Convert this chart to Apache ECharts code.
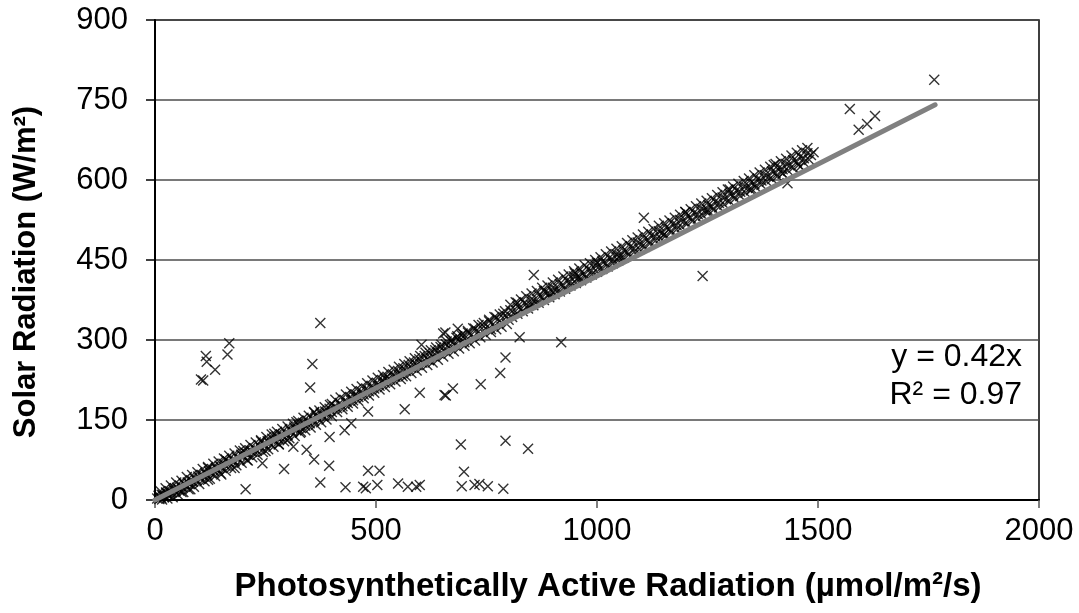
<!DOCTYPE html>
<html>
<head>
<meta charset="utf-8">
<script src="https://cdn.jsdelivr.net/npm/echarts@6/dist/echarts.min.js"></script>
<style>
html,body{margin:0;padding:0;background:#fff;}
#chart{width:1079px;height:613px;}
</style>
</head>
<body>
<div id="chart"></div>
<script>
// PAR (µmol/m²/s) vs Solar Radiation (W/m²) — main dense band (centre)
const mainBand = [
[5,3],[10,6],[14,4],[18,9],[22,8],[26,13],[30,11],[34,16],[38,14],[42,19],[46,17],[50,23],[54,20],[58,26],[62,24],[66,30],[70,27],[74,33],[78,30],[82,37],[86,34],[90,40],[94,37],[98,44],[102,41],[106,47],[110,44],[114,50],[118,47],[122,54],[126,51],[130,57],[134,54],[138,60],[142,57],[146,64],[150,61],[155,68],[160,64],[165,72],[170,69],[175,76],[180,72],[185,80],[190,77],[195,85],[200,81],[205,88],[210,85],[215,93],[220,90],[225,97],[230,93],[235,102],[240,98],[245,106],[250,102],[255,110],[260,106],[265,115],[270,110],[275,119],[280,114],[285,123],[290,119],[295,127],[300,122],[305,132],[310,127],[315,136],[320,131],[325,140],[330,135],[335,145],[340,139],[345,149],[350,144],[355,153],[360,148],[365,158],[370,152],[375,162],[380,157],[385,166],[390,161],[395,171],[400,165],[406,176],[412,172],[418,182],[424,176],[430,187],[436,182],[442,193],[448,187],[454,198],[460,193],[466,204],[472,198],[478,209],[484,204],[490,214],[496,209],[502,220],[508,214],[514,225],[520,220],[526,231],[532,225],[538,236],[544,231],[550,242],[556,236],[562,247],[568,242],[574,253],[580,248],[586,258],[592,253],[598,264],[604,258],[610,270],[616,264],[622,275],[628,270],[634,281],[640,276],[646,287],[652,281],[658,292],[664,287],[670,298],[676,292],[682,304],[688,298],[694,309],[700,303],[708,314],[716,310],[724,321],[732,316],[740,328],[748,322],[756,335],[764,329],[772,342],[780,336],[788,349],[796,344],[804,356],[812,351],[820,363],[828,358],[836,370],[844,365],[852,377],[860,372],[868,384],[876,380],[884,391],[892,387],[900,398],[908,394],[916,405],[924,402],[932,412],[940,409],[948,419],[956,416],[964,426],[972,423],[980,433],[988,430],[996,440],[1004,437],[1012,447],[1020,444],[1028,454],[1036,451],[1044,461],[1052,458],[1060,468],[1068,465],[1076,476],[1084,472],[1092,483],[1100,479],[1108,490],[1116,487],[1124,497],[1132,494],[1140,504],[1148,501],[1156,511],[1164,508],[1172,518],[1180,515],[1188,525],[1196,522],[1204,532],[1212,529],[1220,539],[1228,536],[1236,546],[1244,543],[1252,553],[1260,550],[1268,560],[1276,557],[1284,567],[1292,564],[1300,574],[1308,571],[1316,581],[1324,578],[1332,588],[1340,585],[1348,595],[1356,592],[1364,602],[1372,599],[1380,609],[1388,606],[1396,616],[1404,613],[1412,623],[1420,620],[1428,630],[1436,627],[1444,637],[1452,634],[1460,644],[1468,641],[1476,650],[1484,647],[1490,652]
];
// upper edge of the band
const bandUpper = [
[12,17],[24,22],[36,27],[48,33],[60,36],[72,43],[84,47],[96,52],[108,58],[120,62],[132,68],[144,72],[156,78],[168,83],[180,87],[192,93],[204,97],[216,103],[228,108],[240,112],[252,118],[264,123],[276,128],[288,133],[300,138],[312,143],[324,148],[336,154],[348,158],[360,164],[372,168],[384,174],[396,178],[408,188],[420,192],[432,198],[444,203],[456,208],[468,213],[480,219],[492,224],[504,229],[516,234],[528,240],[540,244],[552,250],[564,255],[576,260],[588,266],[600,270],[612,276],[624,281],[636,286],[648,291],[660,297],[672,301],[684,307],[696,312],[708,317],[720,322],[732,328],[744,332],[756,338],[768,343],[780,348],[792,354],[804,366],[816,371],[828,376],[840,382],[852,387],[864,392],[876,398],[888,402],[900,408],[912,413],[924,419],[936,423],[948,429],[960,434],[972,440],[984,444],[996,450],[1008,455],[1020,461],[1032,466],[1044,471],[1056,476],[1068,482],[1080,487],[1092,492],[1104,498],[1116,503],[1128,508],[1140,514],[1152,519],[1164,524],[1176,529],[1188,535],[1200,540],[1212,545],[1224,551],[1236,556],[1248,561],[1260,566],[1272,572],[1284,577],[1296,582],[1308,588],[1320,593],[1332,598],[1344,603],[1356,609],[1368,614],[1380,619],[1392,625],[1404,630],[1416,635],[1428,640],[1440,646],[1452,651],[1464,656],[1476,660]
];
// lower edge of the band
const bandLower = [
[16,1],[28,3],[40,5],[52,10],[64,15],[76,20],[88,25],[100,30],[112,35],[124,40],[136,45],[148,50],[160,55],[172,60],[184,65],[196,70],[208,75],[220,80],[232,85],[244,90],[256,95],[268,100],[280,105],[292,110],[304,116],[316,120],[328,126],[340,131],[352,136],[364,141],[376,146],[388,151],[400,157],[412,165],[424,170],[436,175],[448,181],[460,186],[472,191],[484,196],[496,201],[508,207],[520,212],[532,217],[544,222],[556,227],[568,232],[580,238],[592,243],[604,248],[616,253],[628,258],[640,263],[652,269],[664,274],[676,279],[688,284],[700,289],[712,294],[724,299],[736,305],[748,310],[760,315],[772,320],[784,325],[796,330],[808,343],[820,349],[832,354],[844,359],[856,365],[868,370],[880,375],[892,380],[904,386],[916,391],[928,396],[940,402],[952,407],[964,412],[976,417],[988,423],[1000,428],[1012,433],[1024,438],[1036,444],[1048,449],[1060,454],[1072,460],[1084,465],[1096,470],[1108,475],[1120,481],[1132,486],[1144,491],[1156,496],[1168,502],[1180,507],[1192,512],[1204,518],[1216,523],[1228,528],[1240,533],[1252,539],[1264,544],[1276,549],[1288,554],[1300,560],[1312,565],[1324,570],[1336,576],[1348,581],[1360,586],[1372,591],[1384,597],[1396,602],[1408,607],[1420,612],[1432,618],[1444,623],[1456,628],[1468,633],[1480,638]
];
// scattered points close to the band
const nearBand = [
[60,15],[80,20],[120,38],[150,48],[180,60],[210,74],[250,92],[280,104],[300,112],[330,128],[120,60],[160,76],[200,92],[240,110],[270,124],[320,146],[360,165],[400,180],[450,195],[520,228],[560,232],[620,262],[700,296],[760,320],[800,338],[850,366],[900,390],[960,418],[1050,455],[1150,497],[1250,544],[1350,583],[1420,612],[1460,625],[1200,540],[1300,582],[1400,628],[1000,445],[950,425],[880,392],[820,370],[10,2],[20,5],[30,8],[15,10],[25,14],[35,12],[8,8],[45,22],[55,18],[65,31]
];
// outliers
const outliers = [
[104,226],[109,224],[115,270],[117,259],[136,244],[164,273],[168,294],[205,20],[243,69],[292,58],[313,100],[343,94],[351,211],[356,255],[360,76],[374,332],[374,33],[394,64],[395,118],[429,131],[431,24],[444,144],[471,25],[477,22],[482,55],[482,166],[503,28],[508,55],[550,31],[565,170],[572,25],[591,25],[599,28],[599,201],[603,291],[652,312],[655,197],[657,314],[658,196],[674,209],[685,321],[692,104],[694,26],[699,53],[723,28],[734,30],[737,217],[753,26],[781,238],[788,21],[793,267],[793,111],[825,305],[844,96],[857,422],[919,296],[1106,529],[1239,420],[1431,594],[1572,733],[1592,694],[1611,705],[1629,720],[1763,788]
];
// linear trend line end points (y = 0.42x)
const trendX = [0, 1765];
const trendY = [0, 741];
const xTicks = [0, 500, 1000, 1500, 2000];
const yTicks = [0, 150, 300, 450, 600, 750, 900];
const equationLines = ['y = 0.42x', 'R² = 0.97'];

const chart = echarts.init(document.getElementById('chart'), null, {renderer: 'canvas'});
const font = '"Liberation Sans", Arial, sans-serif';
const crossPath = 'path://M0,0L10,10M0,10L10,0';

chart.setOption({
  animation: false,
  backgroundColor: '#fff',
  textStyle: {fontFamily: font, fontSize: 30, color: '#000'},
  grid: {left: 155, right: 40, top: 20, bottom: 113, show: true, borderColor: '#000', borderWidth: 1.5, backgroundColor: 'transparent'},
  xAxis: {
    type: 'value', min: xTicks[0], max: xTicks[xTicks.length - 1], interval: 500,
    name: 'Photosynthetically Active Radiation (µmol/m²/s)',
    nameLocation: 'middle', nameGap: 70,
    nameTextStyle: {fontFamily: font, fontSize: 33, fontWeight: 'bold', color: '#000', padding: [0, 0, 0, 22]},
    axisLine: {lineStyle: {color: '#000', width: 2}},
    axisTick: {show: true, inside: false, length: 8, lineStyle: {color: '#555', width: 1.5}},
    axisLabel: {margin: 16, formatter: v => '{t|' + v + '}', rich: {t: {fontFamily: font, fontSize: 31, color: '#000'}}},
    splitLine: {show: false}
  },
  yAxis: {
    type: 'value', min: yTicks[0], max: yTicks[yTicks.length - 1], interval: 150,
    name: 'Solar Radiation (W/m²)',
    nameLocation: 'middle', nameGap: 113, nameRotate: 90,
    nameTextStyle: {fontFamily: font, fontSize: 31, fontWeight: 'bold', color: '#000', padding: [0, 24, 0, 0]},
    axisLine: {show: true, lineStyle: {color: '#000', width: 2}},
    axisTick: {show: true, inside: false, length: 9, lineStyle: {color: '#000', width: 1.5}},
    axisLabel: {margin: 27, formatter: v => '{t|' + v + '}', rich: {t: {fontFamily: font, fontSize: 31, color: '#000'}}},
    splitLine: {show: true, lineStyle: {color: '#4d4d4d', width: 1.5}}
  },
  series: [
    {
      type: 'scatter',
      symbol: crossPath,
      symbolSize: 10,
      itemStyle: {color: 'rgba(0,0,0,0)', borderColor: '#000', borderWidth: 1.4},
      data: mainBand.concat(bandUpper, bandLower, nearBand, outliers),
      z: 2
    },
    {
      type: 'line',
      data: trendX.map((x, i) => [x, trendY[i]]),
      showSymbol: false,
      symbol: 'none',
      lineStyle: {color: '#808080', width: 5, cap: 'round'},
      z: 3
    }
  ],
  graphic: [
    {type: 'text', right: 57, top: 341, z: 10,
     style: {text: equationLines[0], font: '32px ' + font, fill: '#000', textAlign: 'right'}},
    {type: 'text', right: 57, top: 379, z: 10,
     style: {text: equationLines[1], font: '32px ' + font, fill: '#000', textAlign: 'right'}}
  ]
});
</script>
</body>
</html>
